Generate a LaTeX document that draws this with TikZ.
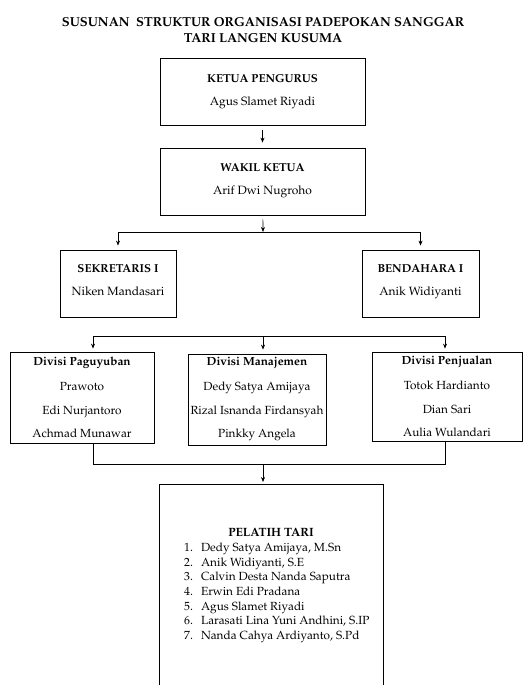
\documentclass[tikz,border=0pt]{standalone}
\usepackage[T1]{fontenc}
\usepackage{mathpazo}
\usetikzlibrary{arrows.meta,positioning}
\tikzset{
	kotak/.style={draw, line width=0.8pt, align=center, inner sep=0pt, font=\fontsize{12}{14}\selectfont},
	panah/.style={-{Stealth[length=5pt,width=4pt]}, line width=0.7pt},
	garis/.style={line width=0.7pt}
}
\newcommand{\jdl}[1]{{\bfseries\fontsize{11.5}{14}\selectfont #1}}

\begin{document}
\begin{tikzpicture}[x=1pt, y=-1pt]
	\useasboundingbox (0,0) rectangle (527,685);
	\clip (0,0) rectangle (527,685);
	% judul
	\node[align=center, font=\bfseries\fontsize{13}{16}\selectfont] (judul) at (263,30)
		{SUSUNAN~ STRUKTUR ORGANISASI PADEPOKAN SANGGAR\\TARI LANGEN KUSUMA};
	% pengurus inti
	\node[kotak, minimum width=205pt, minimum height=67pt] (ketua) at (262.5,91.5)
		{\jdl{KETUA PENGURUS}\\[9pt]Agus Slamet Riyadi\\[-10pt]\mbox{}};
	\node[kotak, minimum width=205pt, minimum height=67pt] (wakil) at (262.5,181.5)
		{\jdl{WAKIL KETUA}\\[9pt]Arif Dwi Nugroho\\[-8pt]\mbox{}};
	\node[kotak, minimum width=116pt, minimum height=67pt] (sekre) at (118,283.5)
		{\jdl{SEKRETARIS I}\\[9pt]Niken Mandasari\\[-6pt]\mbox{}};
	\node[kotak, minimum width=117pt, minimum height=67pt] (benda) at (420.5,283.5)
		{\jdl{BENDAHARA I}\\[9pt]Anik Widiyanti\\[-6pt]\mbox{}};
	% divisi
	\node[kotak, font=\fontsize{11.8}{14}\selectfont, minimum width=144pt, minimum height=91pt] (paguyuban) at (82,397.5)
		{\textbf{Divisi Paguyuban}\\[11pt]Prawoto\\[9.5pt]Edi Nurjantoro\\[9.5pt]Achmad Munawar};
	\node[kotak, font=\fontsize{11.8}{14}\selectfont, minimum width=138pt, minimum height=91pt] (manajemen) at (257,399.5)
		{\textbf{Divisi Manajemen}\\[11pt]Dedy Satya Amijaya\\[9.5pt]Rizal Isnanda Firdansyah\\[9.5pt]Pinkky Angela};
	\node[kotak, font=\fontsize{11.8}{14}\selectfont, minimum width=150pt, minimum height=89pt] (penjualan) at (447,396.5)
		{\textbf{Divisi Penjualan}\\[11pt]Totok Hardianto\\[9.5pt]Dian Sari\\[9.5pt]Aulia Wulandari};
	% pelatih
	\node[kotak, minimum width=224pt, minimum height=236pt, anchor=north] (pelatih) at (271,484) {};
	\node[font=\bfseries\fontsize{12}{14}\selectfont] (pelatih judul) at (271,532) {PELATIH TARI};
	\node[anchor=north west, inner sep=0pt, font=\fontsize{11.8}{14.7}\selectfont] (pelatih daftar) at (184,541)
		{\begin{tabular}{@{}l@{\hspace{8pt}}l@{}}
			1. & Dedy Satya Amijaya, M.Sn\\
			2. & Anik Widiyanti, S.E\\
			3. & Calvin Desta Nanda Saputra\\
			4. & Erwin Edi Pradana\\
			5. & Agus Slamet Riyadi\\
			6. & Larasati Lina Yuni Andhini, S.IP\\
			7. & Nanda Cahya Ardiyanto, S.Pd
		\end{tabular}};
	% titik cabang
	\coordinate (cab1) at (263,232);
	\coordinate (cab2 kiri) at (93,336);
	\coordinate (cab2 tengah) at (263,336);
	\coordinate (cab2 kanan) at (445,336);
	\coordinate (cab3 kiri) at (93,464);
	\coordinate (cab3 tengah) at (263,464);
	\coordinate (cab3 kanan) at (445,464);
	% garis penghubung
	\draw[panah, shorten <=5pt, shorten >=5pt] (ketua) -- (wakil);
	\draw[panah, shorten <=4pt] (wakil) -- (cab1);
	\draw[panah, shorten >=4pt] (cab1) -| (sekre.north);
	\draw[panah, shorten >=4pt] (cab1) -| (benda.north);
	\draw[garis] (cab2 kiri) -- (cab2 kanan);
	\draw[panah, shorten >=3pt] (cab2 kiri) -- (cab2 kiri |- paguyuban.north);
	\draw[panah, shorten >=4pt] (cab2 tengah) -- (cab2 tengah |- manajemen.north);
	\draw[panah, shorten >=3pt] (cab2 kanan) -- (cab2 kanan |- penjualan.north);
	\draw[garis] (cab3 kiri |- paguyuban.south) -- (cab3 kiri) -- (cab3 kanan) -- (cab3 kanan |- penjualan.south);
	\draw[panah, shorten >=2pt] (cab3 tengah) -- (cab3 tengah |- pelatih.north);
\end{tikzpicture}
\end{document}
